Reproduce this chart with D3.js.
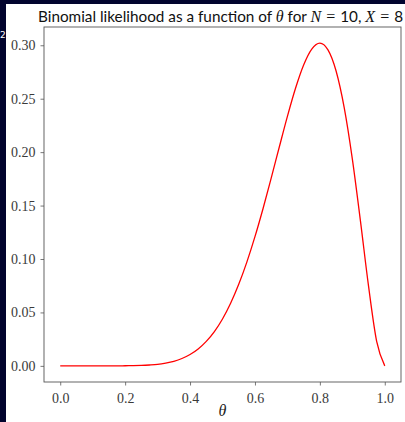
<!DOCTYPE html>
<html>
<head>
<meta charset="utf-8">
<script src="https://cdn.jsdelivr.net/npm/d3@7"></script>
<style>
  html, body { margin: 0; padding: 0; background: #02042e; }
  #plotdiv { width: 405px; height: 422px; }
</style>
</head>
<body>
<div id="plotdiv"></div>
<script>
// data: likelihood L(theta) for N = 10, X = 8
const thetas = [0.000, 0.025, 0.050, 0.075, 0.100, 0.125, 0.150, 0.175, 0.200, 0.225,
                0.250, 0.275, 0.300, 0.325, 0.350, 0.375, 0.400, 0.425, 0.450, 0.475,
                0.500, 0.525, 0.550, 0.575, 0.600, 0.625, 0.650, 0.675, 0.700, 0.725,
                0.750, 0.775, 0.800, 0.825, 0.850, 0.875, 0.900, 0.925, 0.950, 0.975, 1.000];
const likelihood = [0.0000, 0.0000, 0.0000, 0.0000, 0.0000, 0.0000, 0.0000, 0.0000, 0.0001, 0.0002,
                    0.0004, 0.0008, 0.0014, 0.0026, 0.0043, 0.0069, 0.0106, 0.0158, 0.0229, 0.0321,
                    0.0439, 0.0586, 0.0763, 0.0971, 0.1209, 0.1473, 0.1757, 0.2048, 0.2335, 0.2598,
                    0.2816, 0.2965, 0.3020, 0.2957, 0.2759, 0.2416, 0.1937, 0.1357, 0.0746, 0.0230, 0.0000];
const xticks = [0.0, 0.2, 0.4, 0.6, 0.8, 1.0];
const yticks = [0.00, 0.05, 0.10, 0.15, 0.20, 0.25, 0.30];

const W = 405, H = 422;
const margin = {top: 27, right: 4, bottom: 40, left: 44};
const width = W - margin.left - margin.right,
      height = H - margin.top - margin.bottom;

const svg = d3.select("#plotdiv")
  .append("svg")
  .attr("width", W)
  .attr("height", H);

// white figure area (page background is the dark strip)
svg.append("rect")
  .attr("x", 6).attr("y", 4)
  .attr("width", W - 6).attr("height", H - 4)
  .attr("fill", "#ffffff");

// bit of text at the left edge
svg.append("text")
  .attr("x", 0).attr("y", 38)
  .attr("fill", "#ffffff")
  .style("font-family", "DejaVu Sans")
  .style("font-size", "9px")
  .text("2");

const g = svg.append("g")
  .attr("transform", "translate(" + margin.left + "," + margin.top + ")");

const ymax = d3.max(likelihood);
const x = d3.scaleLinear().domain([-0.05, 1.05]).range([0, width]);
const y = d3.scaleLinear().domain([-0.05 * ymax, 1.05 * ymax]).range([height, 0]);

// axes
const xAxis = d3.axisBottom(x).tickValues(xticks).tickFormat(d3.format(".1f")).tickSize(3.5).tickSizeOuter(0);
const yAxis = d3.axisLeft(y).tickValues(yticks).tickFormat(d3.format(".2f")).tickSize(3.5).tickSizeOuter(0);

const gx = g.append("g").attr("transform", "translate(0," + height + ")").call(xAxis);
const gy = g.append("g").call(yAxis);

[gx, gy].forEach(a => {
  a.attr("font-size", null).attr("font-family", null);
  a.select(".domain").remove();
  a.selectAll("line").attr("stroke", "#555").attr("stroke-width", 0.8);
  a.selectAll("text")
    .attr("fill", "#3a3a3a")
    .style("font-family", "'Liberation Serif', 'DejaVu Serif', serif")
    .style("font-size", "14px");
});
gx.selectAll("text").attr("dy", "1.05em");
gy.selectAll("text").attr("dx", "-0.15em");

// frame
g.append("rect")
  .attr("x", 0).attr("y", 0)
  .attr("width", width).attr("height", height)
  .attr("fill", "none")
  .attr("stroke", "#555")
  .attr("stroke-width", 0.9);

// curve
const line = d3.line()
  .x((d, i) => x(thetas[i]))
  .y(d => y(d))
  .curve(d3.curveMonotoneX);

g.append("path")
  .datum(likelihood)
  .attr("d", line)
  .attr("fill", "none")
  .attr("stroke", "#ff0000")
  .attr("stroke-width", 1.3);

// x label
g.append("text")
  .attr("x", width / 2).attr("y", height + 34)
  .attr("text-anchor", "middle")
  .attr("fill", "#222")
  .style("font-family", "'Liberation Serif', 'DejaVu Serif', serif")
  .style("font-style", "italic")
  .style("font-size", "16px")
  .text("θ");

// title
const sans = "'Lato', 'DejaVu Sans', sans-serif";
const serif = "'Liberation Serif', 'DejaVu Serif', serif";
const title = svg.append("text")
  .attr("x", 38).attr("y", 22)
  .attr("fill", "#111")
  .style("white-space", "pre")
  .style("font-family", sans)
  .style("font-size", "15.3px");
title.append("tspan").text("Binomial likelihood as a function of ");
title.append("tspan").style("font-family", serif).style("font-style", "italic").style("font-size", "16px").text("θ");
title.append("tspan").text(" for ");
title.append("tspan").style("font-family", serif).style("font-style", "italic").style("font-size", "16px").text("N");
title.append("tspan").attr("dx", 5).style("font-family", serif).style("font-size", "16px").text("=");
title.append("tspan").attr("dx", 5).text("10, ");
title.append("tspan").style("font-family", serif).style("font-style", "italic").style("font-size", "16px").text("X");
title.append("tspan").attr("dx", 5).style("font-family", serif).style("font-size", "16px").text("=");
title.append("tspan").attr("dx", 5).text("8");
</script>
</body>
</html>
